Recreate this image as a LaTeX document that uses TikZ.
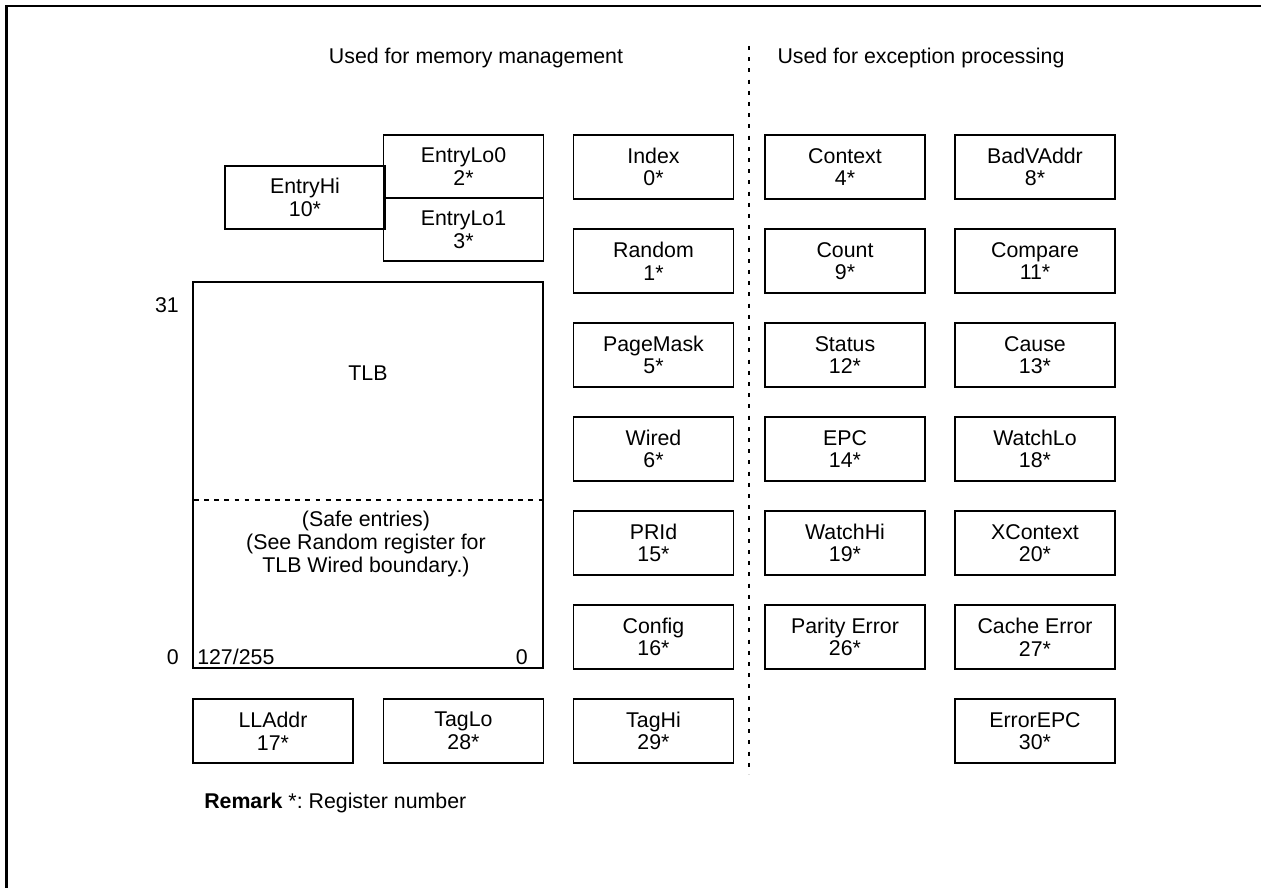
\documentclass[tikz,border=0pt]{standalone}
\usepackage{fontspec}
\setmainfont{Liberation Sans}
\frenchspacing
\begin{document}
\begin{tikzpicture}[x=0.75pt,y=-0.75pt,
  every node/.style={font=\fontsize{16}{17}\selectfont},
  reg/.style={draw, line width=0.9pt, minimum width=120pt, minimum height=48pt, align=center, inner sep=0pt},
  half/.style={reg, minimum height=47.25pt},
  sep/.style={line width=1.1pt, dash pattern=on 3pt off 5.4pt},
  inner/.style={line width=0.9pt, dash pattern=on 3.6pt off 4pt},
  frame/.style={line width=1.6pt}]
\useasboundingbox (0,0) rectangle (1261,888);
% frame
\coordinate (fa) at (6.5,888);
\coordinate (fb) at (6.5,6);
\coordinate (fc) at (1261,6);
\draw[frame] (fa) -- (fb) -- (fc);
% titles
\node (t1) at (476,58) {Used for memory management};
\node (t2) at (921,58) {Used for exception processing};
% separator
\coordinate (s1) at (749,46);
\coordinate (s2) at (749,774);
\draw[sep] (s1) -- (s2);
% TLB entry registers
\node[half] (ehi) at (305,197.5) {EntryHi\\10*};
\node[half] (elo0) at (463.5,166.5) {EntryLo0\\2*};
\node[half] (elo1) at (463.5,229.5) {EntryLo1\\3*};
% TLB
\node[draw, line width=0.9pt, minimum width=262.5pt, minimum height=289.5pt, inner sep=0pt] (tlb) at (368,475) {};
\node (tlbl) at (368,373) {TLB};
\coordinate (d1) at (194,500);
\coordinate (d2) at (542,500);
\draw[inner] (d1) -- (d2);
\node[align=center] (safe) at (366,544) {(Safe entries)\\(See Random register for\\TLB Wired boundary.)};
\node[anchor=west, inner sep=0pt] (n127) at (197,657) {127/255};
\node[anchor=east, inner sep=0pt] (n0r) at (528,657) {0};
\node[anchor=east, inner sep=0pt] (n31) at (179,305) {31};
\node[anchor=east, inner sep=0pt] (n0l) at (179,657) {0};
% column 3
\node[reg] (index) at (653.5,167) {Index\\0*};
\node[reg] (random) at (653.5,261) {Random\\1*};
\node[reg] (pagemask) at (653.5,355) {PageMask\\5*};
\node[reg] (wired) at (653.5,449) {Wired\\6*};
\node[reg] (prid) at (653.5,543) {PRId\\15*};
\node[reg] (config) at (653.5,637) {Config\\16*};
\node[reg] (taghi) at (653.5,731) {TagHi\\29*};
% bottom left
\node[reg] (lladdr) at (273,731) {LLAddr\\17*};
\node[reg] (taglo) at (463.5,731) {TagLo\\28*};
% column 4
\node[reg] (context) at (845,167) {Context\\4*};
\node[reg] (count) at (845,261) {Count\\9*};
\node[reg] (status) at (845,355) {Status\\12*};
\node[reg] (epc) at (845,449) {EPC\\14*};
\node[reg] (watchhi) at (845,543) {WatchHi\\19*};
\node[reg] (parity) at (845,637) {Parity Error\\26*};
% column 5
\node[reg] (badvaddr) at (1035,167) {BadVAddr\\8*};
\node[reg] (compare) at (1035,261) {Compare\\11*};
\node[reg] (cause) at (1035,355) {Cause\\13*};
\node[reg] (watchlo) at (1035,449) {WatchLo\\18*};
\node[reg] (xcontext) at (1035,543) {XContext\\20*};
\node[reg] (cacheerr) at (1035,637) {Cache Error\\27*};
\node[reg] (errorepc) at (1035,731) {ErrorEPC\\30*};
% remark
\node[anchor=west, inner sep=0pt] (remark) at (204,803) {\textbf{Remark} *: Register number};
\end{tikzpicture}
\end{document}
